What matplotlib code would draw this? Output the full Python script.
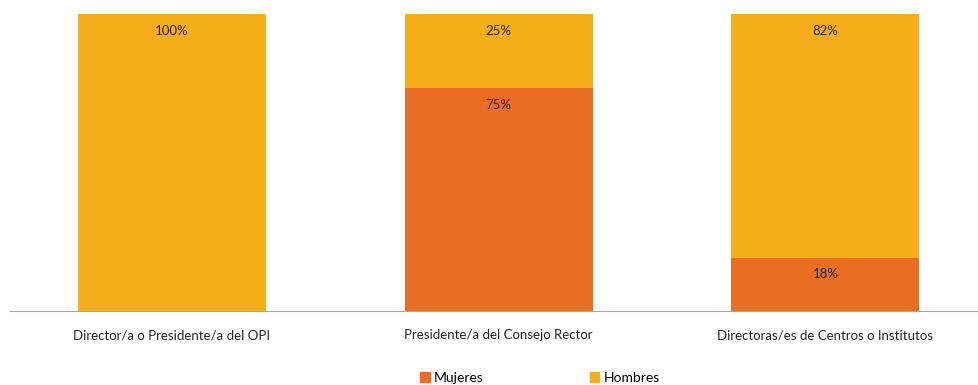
import matplotlib.pyplot as plt
from matplotlib.patches import Patch

plt.rcParams['font.family'] = ['Lato', 'DejaVu Sans']

categories = ["Director/a o Presidente/a del OPI",
              "Presidente/a del Consejo Rector",
              "Directoras/es de Centros o Institutos"]
mujeres = [0, 75, 18]
hombres = [100, 25, 82]

c_muj = '#E96D22'
c_hom = '#F6AE1A'

fig = plt.figure(figsize=(9.79, 3.85), dpi=100)
ax = fig.add_axes([10 / 979, 1 - 311 / 385, 969 / 979, 297 / 385])

x = range(len(categories))
width = 0.575
ax.bar(x, mujeres, width, color=c_muj)
ax.bar(x, hombres, width, bottom=mujeres, color=c_hom)

# labels inside the top end of each segment
for i in x:
    if mujeres[i] > 0:
        ax.text(i, mujeres[i] - 3.6, f"{mujeres[i]}%", ha='center', va='top',
                fontsize=9.5, color='#262626')
    ax.text(i, 100 - 3.6, f"{hombres[i]}%", ha='center', va='top',
            fontsize=9.5, color='#262626')

ax.set_ylim(0, 100)
ax.set_xlim(-0.495, 2.47)
ax.set_yticks([])
ax.set_xticks(list(x))
ax.set_xticklabels(categories, fontsize=9.5, color='#262626')
ax.tick_params(axis='x', length=0, pad=13)
for s in ['top', 'right', 'left']:
    ax.spines[s].set_visible(False)
ax.spines['bottom'].set_color('#A6A6A6')

handles = [Patch(color=c_muj, label='Mujeres'), Patch(color=c_hom, label='Hombres')]
fig.legend(handles=handles, loc='center', bbox_to_anchor=(540 / 979, 1 - 378 / 385),
           ncol=2, frameon=False, fontsize=10, handlelength=0.7, handleheight=0.7,
           handletextpad=0.3, columnspacing=7.6)

fig.savefig('out.png', dpi=100)
